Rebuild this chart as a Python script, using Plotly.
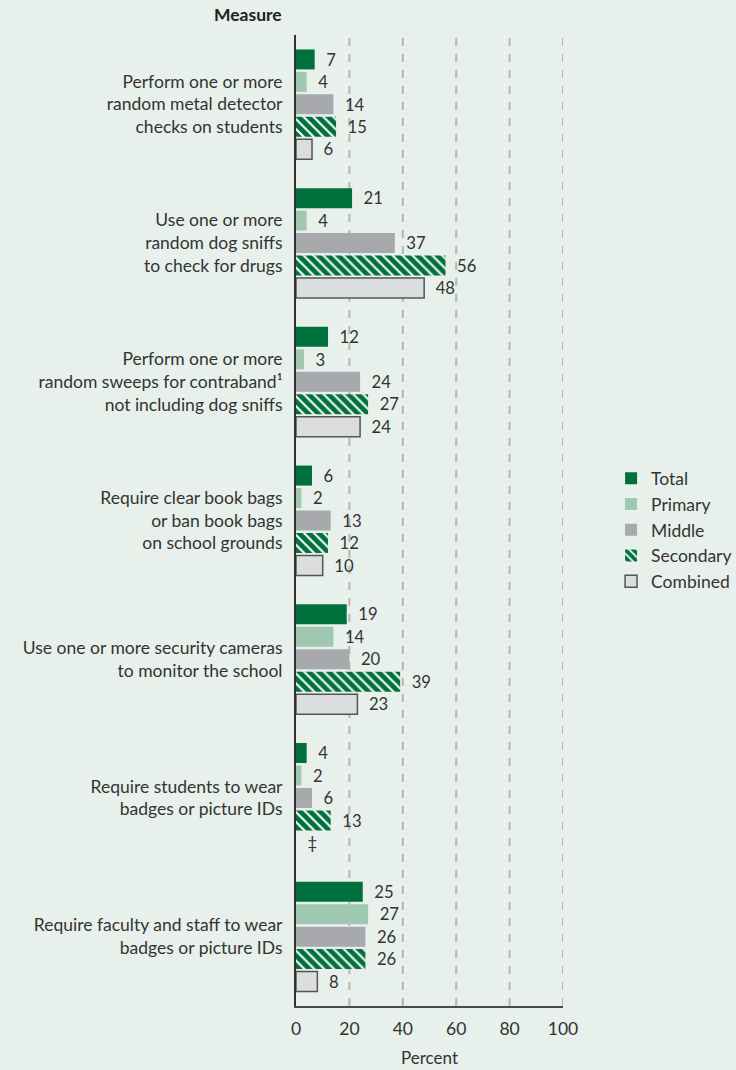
import plotly.graph_objects as go

categories = [
    "Perform one or more<br>random metal detector<br>checks on students",
    "Use one or more<br>random dog sniffs<br>to check for drugs",
    "Perform one or more<br>random sweeps for contraband¹<br>not including dog sniffs",
    "Require clear book bags<br>or ban book bags<br>on school grounds",
    "Use one or more security cameras<br>to monitor the school",
    "Require students to wear<br>badges or picture IDs",
    "Require faculty and staff to wear<br>badges or picture IDs",
]
total = [7, 21, 12, 6, 19, 4, 25]
primary = [4, 4, 3, 2, 14, 2, 27]
middle = [14, 37, 24, 13, 20, 6, 26]
secondary = [15, 56, 27, 12, 39, 13, 26]
combined = [6, 48, 24, 10, 23, None, 8]
missing_mark = "‡"
x_ticks = [0, 20, 40, 60, 80, 100]

BG = "#e8f0eb"
FONT = "Lato"
TXT = "#333333"
FS = 17.5

fig = go.Figure()

def add(name, vals, color, line_color=None, line_w=0, pattern=None):
    xs = [v if v is not None else 0 for v in vals]
    texts = ["  " + str(v) if v is not None else "  " + missing_mark for v in vals]
    lw = [line_w if v is not None else 0 for v in vals]
    marker = dict(color=color, line=dict(color=line_color or color, width=lw))
    if pattern:
        marker["pattern"] = pattern
    fig.add_trace(go.Bar(
        name=name, y=categories, x=xs, orientation="h",
        marker=marker, text=texts, textposition="outside",
        textfont=dict(family=FONT, size=FS, color=TXT),
        cliponaxis=False,
    ))

add("Total", total, "#00703c")
add("Primary", primary, "#a0c8b0")
add("Middle", middle, "#a7a9ac")
add("Secondary", secondary, "#00703c",
    pattern=dict(shape="\\", fgcolor="#00703c", bgcolor="#f2f6f3", size=7,
                 solidity=0.68, fgopacity=1, fillmode="replace"))
add("Combined", combined, "#dcdddf", line_color="#555555", line_w=1.5)

fig.update_layout(
    width=736, height=1070,
    paper_bgcolor=BG, plot_bgcolor=BG,
    margin=dict(l=296, r=173, t=35, b=64, autoexpand=False),
    barmode="group", bargap=0.19, bargroupgap=0.11,
    font=dict(family=FONT, size=FS, color=TXT),
    showlegend=True,
    legend=dict(x=1.18, xanchor="left", xref="paper", y=0.562, yanchor="top",
                traceorder="normal", font=dict(family=FONT, size=FS, color=TXT),
                bgcolor="rgba(0,0,0,0)", itemwidth=30, tracegroupgap=0),
)
for t in x_ticks[1:]:
    fig.add_shape(type="line", xref="x", yref="paper", x0=t, x1=t, y0=0, y1=1,
                  line=dict(color="#b3b6b4", width=2, dash="8px,8px"), layer="below")
fig.update_xaxes(
    range=[0, 100], tickvals=x_ticks, showgrid=False,
    showline=True, linecolor="#4a4a4a", linewidth=2,
    zeroline=False, ticks="", ticklabelstandoff=6,
    tickfont=dict(family=FONT, size=FS, color=TXT),
    title=dict(text="Percent", font=dict(family=FONT, size=FS - 0.5, color=TXT), standoff=14),
    fixedrange=True,
)
fig.update_yaxes(
    autorange="reversed", showline=True, linecolor="#333333", linewidth=2,
    ticks="", ticklabelstandoff=8, tickfont=dict(family=FONT, size=FS, color=TXT),
    showgrid=False, fixedrange=True,
)
fig.add_annotation(
    text="<b>Measure</b>", xref="paper", yref="paper", x=0, y=1, xanchor="right",
    yanchor="bottom", xshift=-12, yshift=8, showarrow=False,
    font=dict(family=FONT, size=FS, color="#222222"),
)

fig.write_html("out.html", config={"displayModeBar": False},
               post_script="document.body.style.margin='0';")
